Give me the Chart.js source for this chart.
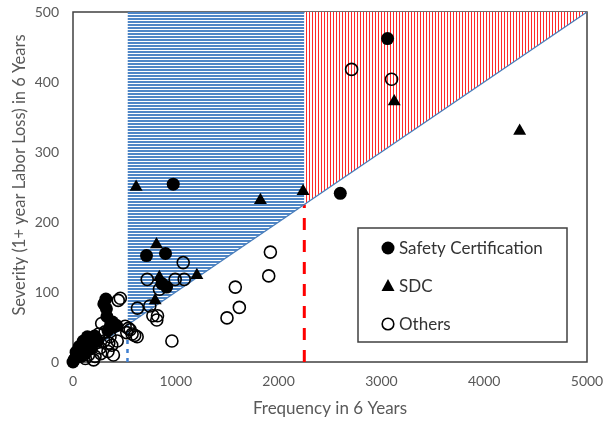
<!DOCTYPE html>
<html>
<head>
<meta charset="utf-8">
<script src="https://cdn.jsdelivr.net/npm/chart.js@4.4.1/dist/chart.umd.min.js"></script>
<style>
  html, body { margin: 0; padding: 0; background: #fff; }
</style>
</head>
<body>
<canvas id="riskChart" width="604" height="422"></canvas>
<script>
// ── Frequency vs severity scatter ──

const xTicks = [0, 1000, 2000, 3000, 4000, 5000];
const yTicks = [0, 100, 200, 300, 400, 500];

// Safety Certification (filled circles)
const safetyFreq = [3060, 975, 2600, 715, 900, 865, 910, 320, 300, 325, 385, 395, 365, 425, 340, 330,
  0, 10, 25, 40, 55, 70, 90, 110, 130, 150, 170, 190, 210, 60, 120, 180, 30, 240, 80, 140, 100];
const safetySev = [462, 254, 241, 152, 155, 112, 107, 90, 83, 76, 57, 50, 53, 52, 45, 65,
  0, 3, 6, 9, 12, 15, 18, 22, 25, 28, 31, 34, 37, 22, 12, 20, 14, 30, 8, 36, 30];

// SDC (filled triangles)
const sdcFreq = [614, 1823, 2238, 3125, 4345, 812, 840, 1205, 799, 60, 150, 350];
const sdcSev = [250, 231, 244, 372, 330, 168, 121, 124, 88, 8, 20, 50];

// Others (open circles)
const otherFreq = [2710, 3099, 1920, 1904, 1579, 1618, 1498, 962, 1072, 722, 994, 1082, 841, 627, 747,
  777, 822, 815, 460, 440, 507, 539, 556, 523, 575, 600, 624, 360, 377, 393, 214, 263, 279, 312, 348,
  200, 300, 250, 150, 120, 340, 430, 270];
const otherSev = [418, 404, 157, 123, 107, 78, 63, 30, 142, 118, 118, 118, 104, 77, 80,
  66, 66, 60, 91, 88, 51, 48, 46, 42, 40, 38, 36, 36, 24, 10, 8, 20, 55, 43, 27,
  3, 30, 40, 10, 5, 15, 30, 12];

// zone boundaries
const riskLine = [{ x: 0, y: 0 }, { x: 5000, y: 500 }];
const blueZone = [{ x: 530, y: 53 }, { x: 2250, y: 225 }];
const redZone = [{ x: 2250, y: 225 }, { x: 5000, y: 500 }];
const blueCut = [{ x: 530, y: 0 }, { x: 530, y: 53 }];
const redCut = [{ x: 2250, y: 0 }, { x: 2250, y: 225 }];

const pts = (xs, ys) => xs.map((x, i) => ({ x: x, y: ys[i] }));

const canvas = document.getElementById('riskChart');
const ctx = canvas.getContext('2d');

function stripes(color, vertical) {
  const c = document.createElement('canvas');
  c.width = 3; c.height = 3;
  const g = c.getContext('2d');
  g.fillStyle = '#fff'; g.fillRect(0, 0, 3, 3);
  g.fillStyle = color;
  if (vertical) g.fillRect(0, 0, 1, 3); else g.fillRect(0, 0, 3, 2);
  return ctx.createPattern(c, 'repeat');
}

const FONT = 'Lato';
const GREY = '#595959';

const frame = {
  id: 'frame',
  beforeDatasetsDraw(chart) {
    const a = chart.chartArea, c = chart.ctx;
    c.save();
    c.strokeStyle = '#404040'; c.lineWidth = 1.5;
    c.strokeRect(a.left, a.top, a.right - a.left, a.bottom - a.top);
    c.restore();
  }
};

// y title sits a little above the plot centre in the original
const yTitle = {
  id: 'yTitle',
  afterDraw(chart) {
    const c = chart.ctx;
    c.save();
    c.translate(20, 175);
    c.rotate(-Math.PI / 2);
    c.fillStyle = GREY;
    c.font = '16.5px ' + FONT;
    c.textAlign = 'center'; c.textBaseline = 'middle';
    c.fillText('Severity (1+ year Labor Loss) in 6 Years', 0, 0);
    c.restore();
  }
};

const legendBox = {
  id: 'legendBox',
  afterDatasetsDraw(chart) {
    const c = chart.ctx;
    c.save();
    c.fillStyle = '#fff';
    c.fillRect(358, 228, 209, 114);
    c.strokeStyle = '#404040'; c.lineWidth = 1.5;
    c.strokeRect(358, 228, 209, 114);
    const rows = [['Safety Certification', 'circle', true], ['SDC', 'triangle', true], ['Others', 'circle', false]];
    rows.forEach((r, i) => {
      const cy = 248 + i * 38, cx = 388;
      c.beginPath();
      if (r[1] === 'circle') {
        c.arc(cx, cy, r[2] ? 6.5 : 5.8, 0, Math.PI * 2);
      } else {
        c.moveTo(cx, cy - 7); c.lineTo(cx + 6.5, cy + 5); c.lineTo(cx - 6.5, cy + 5); c.closePath();
      }
      if (r[2]) { c.fillStyle = '#000'; c.fill(); }
      else { c.strokeStyle = '#000'; c.lineWidth = 1.6; c.stroke(); }
      c.fillStyle = '#333';
      c.font = '17px ' + FONT;
      c.textBaseline = 'middle';
      c.fillText(r[0], 399, cy + 1);
    });
    c.restore();
  }
};

const lineSet = (data, extra) => Object.assign({
  data: data, showLine: true, pointRadius: 0, borderWidth: 0, fill: false, order: 10
}, extra);

const scatterSet = (label, data, style, filled, r) => ({
  label: label, data: data, showLine: false, clip: false,
  pointStyle: style, pointRadius: r, pointHoverRadius: r,
  pointBackgroundColor: filled ? '#000' : 'rgba(0,0,0,0)',
  pointBorderColor: '#000', pointBorderWidth: filled ? 0 : 1.6, order: 1
});

const noPad = s => { s.paddingLeft = 0; s.paddingRight = 0; s.paddingTop = 0; s.paddingBottom = 0; };

new Chart(ctx, {
  type: 'line',
  data: {
    datasets: [
      lineSet(blueZone, { fill: 'end', backgroundColor: stripes('#4f86c6', false), order: 20 }),
      lineSet(redZone, { fill: 'end', backgroundColor: stripes('#ff2a2a', true), order: 20 }),
      lineSet(riskLine, { borderColor: '#4a7ebb', borderWidth: 1.3, order: 15 }),
      lineSet(blueCut, { borderColor: '#3f7fd0', borderWidth: 2.5, borderDash: [4, 5], order: 15 }),
      lineSet(redCut, { borderColor: '#ff0000', borderWidth: 3, borderDash: [12, 10], order: 15 }),
      scatterSet('Others', pts(otherFreq, otherSev), 'circle', false, 6),
      scatterSet('SDC', pts(sdcFreq, sdcSev), 'triangle', true, 7.5),
      scatterSet('Safety Certification', pts(safetyFreq, safetySev), 'circle', true, 6.5)
    ]
  },
  options: {
    responsive: false,
    animation: false,
    layout: { padding: { left: 0, right: 17, top: 12, bottom: 0 } },
    plugins: { legend: { display: false }, tooltip: { enabled: false } },
    scales: {
      x: {
        type: 'linear', min: 0, max: 5000,
        afterBuildTicks: s => { s.ticks = xTicks.map(v => ({ value: v })); },
        afterFit: s => { s.height = 60; noPad(s); },
        grid: { display: false, drawTicks: false }, border: { display: false },
        ticks: { autoSkip: false, maxRotation: 0, padding: 11, color: GREY, font: { family: FONT, size: 14 },
          callback: v => String(v) },
        title: { display: true, text: 'Frequency in 6 Years', color: GREY, font: { family: FONT, size: 17 }, padding: { top: 0, bottom: 3 } }
      },
      y: {
        min: 0, max: 500,
        afterBuildTicks: s => { s.ticks = yTicks.map(v => ({ value: v })); },
        afterFit: s => { s.width = 73; noPad(s); },
        grid: { display: false, drawTicks: false }, border: { display: false },
        ticks: { autoSkip: false, padding: 14, color: GREY, font: { family: FONT, size: 14 },
          callback: v => String(v) },
        title: { display: false }
      }
    }
  },
  plugins: [frame, yTitle, legendBox]
});
</script>
</body>
</html>
